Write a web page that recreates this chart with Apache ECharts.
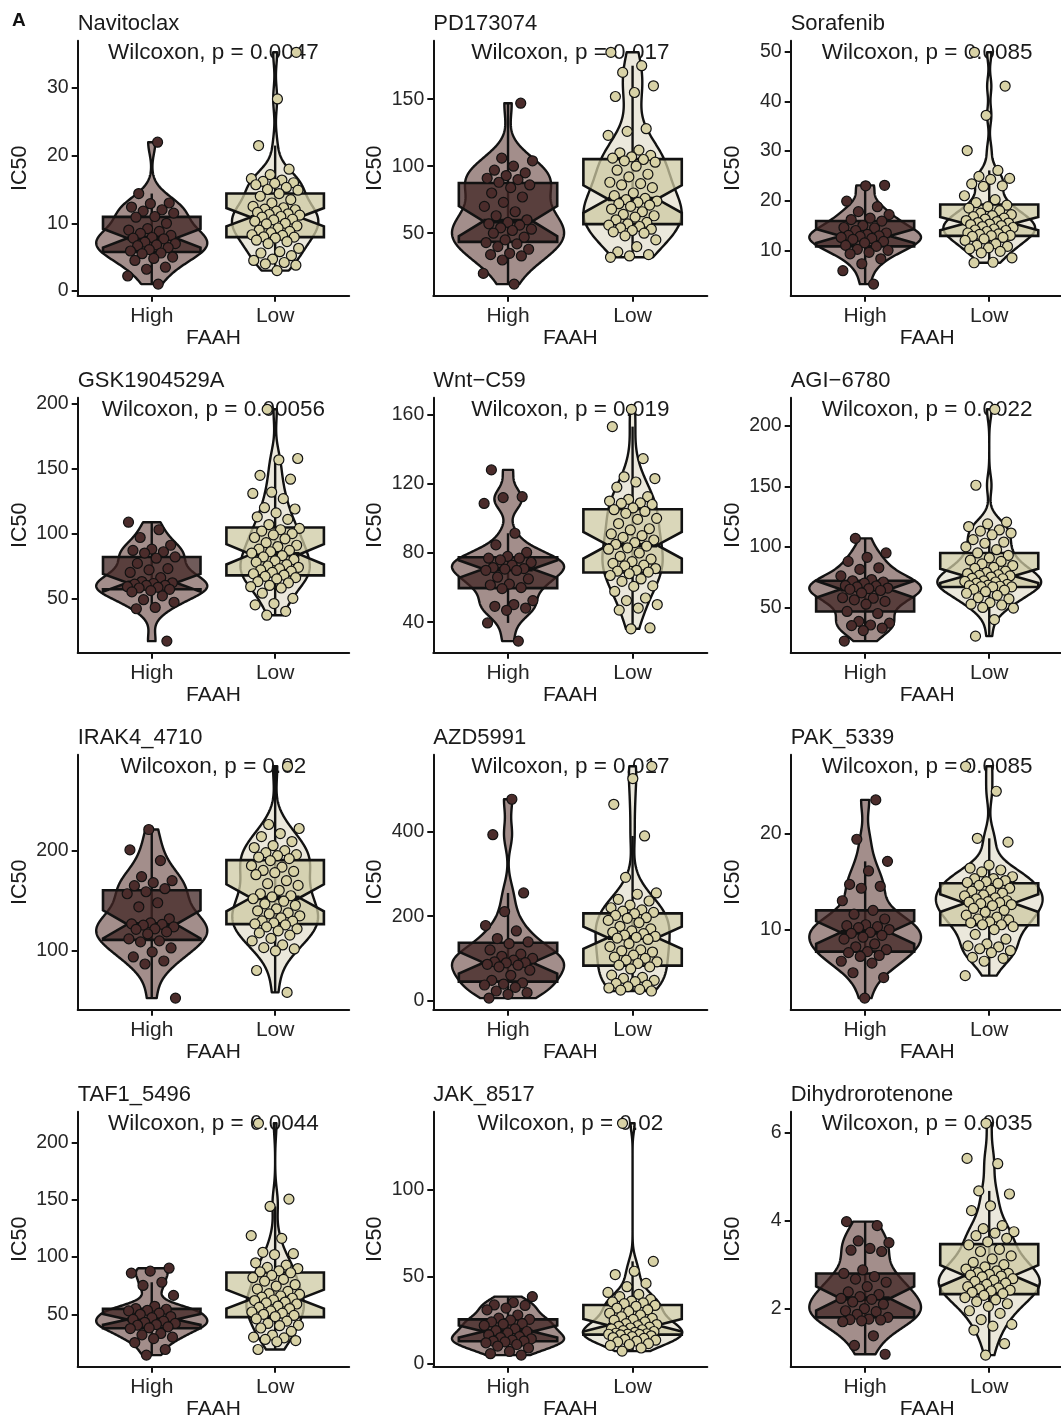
<!DOCTYPE html>
<html>
<head>
<meta charset="utf-8">
<script src="https://cdn.jsdelivr.net/npm/echarts@6/dist/echarts.min.js"></script>
<style>
  html, body { margin: 0; padding: 0; background: #ffffff; }
  #chart { width: 1061px; height: 1420px; }
</style>
</head>
<body>
<div id="chart"></div>
<script>
// ---- Data: IC50 per cell line, split by FAAH expression ----
const drugs = ['Navitoclax', 'PD173074', 'Sorafenib', 'GSK1904529A', 'Wnt\u2212C59', 'AGI\u22126780',
  'IRAK4_4710', 'AZD5991', 'PAK_5339', 'TAF1_5496', 'JAK_8517', 'Dihydrorotenone'];
const groups = ['High', 'Low'];
const pValues = ['0.0047', '0.017', '0.0085', '0.00056', '0.019', '0.0022', '0.02', '0.017', '0.0085', '0.0044', '0.02', '0.0035'];
const yTicks = [[0, 10, 20, 30], [50, 100, 150], [10, 20, 30, 40, 50], [50, 100, 150, 200], [40, 80, 120, 160],
  [50, 100, 150, 200], [100, 200], [0, 200, 400], [10, 20], [50, 100, 150, 200], [0, 50, 100], [2, 4, 6]];

const navitoclaxHigh = [22.0, 14.4, 13.0, 12.9, 12.4, 12.0, 11.8, 11.5, 11.0, 10.9, 10.0, 9.2, 9.0, 8.8, 8.5, 8.2, 7.9, 7.8, 7.7, 7.2, 7.0, 6.8, 6.7, 6.4, 6.1, 5.9, 5.6, 5.5, 5.0, 4.8, 4.5, 3.5, 3.2, 2.2, 1.0];
const navitoclaxLow = [35.3, 28.4, 21.5, 18.0, 17.2, 16.6, 16.4, 16.2, 16.0, 15.9, 15.7, 15.3, 15.0, 14.9, 14.4, 14.0, 13.5, 13.0, 12.5, 12.3, 12.1, 12.0, 11.8, 11.6, 11.4, 11.3, 11.2, 11.0, 10.9, 10.6, 10.5, 10.3, 10.0, 9.9, 9.6, 9.3, 9.0, 8.8, 8.6, 8.3, 8.2, 8.0, 7.95, 7.8, 7.5, 7.3, 7.0, 6.3, 5.8, 5.6, 5.2, 4.7, 4.5, 4.2, 4.0, 3.8, 3.0];

const pd173074High = [147, 106, 104, 100, 97, 95, 93, 91, 90, 88, 86, 84, 80, 77, 73, 70, 66, 63, 60, 58, 57, 56, 54, 53, 52, 50, 47, 45, 43, 42, 40, 38, 35, 34, 33, 30, 20, 12];
const pd173074Low = [185, 175, 170, 160, 155, 152, 128, 126, 123, 112, 110, 108, 107, 106, 105, 104, 103, 100, 97, 94, 92, 88, 87, 86, 84, 80, 78, 76, 75, 74, 73, 72, 71, 70, 68, 66, 64, 63, 62, 60, 58, 57, 56, 55, 54, 53, 52, 51, 50, 48, 45, 40, 36, 34, 33, 32];

const sorafenibHigh = [23.1, 23.0, 19.9, 18.8, 17.8, 17.2, 16.5, 16.2, 15.9, 15.0, 14.6, 14.5, 14.0, 13.5, 13.2, 13.0, 12.9, 12.8, 12.6, 12.4, 12.2, 11.8, 11.5, 11.0, 10.8, 10.2, 10.0, 9.6, 9.3, 8.3, 7.3, 5.9, 3.2];
const sorafenibLow = [49.9, 43.1, 37.2, 30.1, 26.1, 24.9, 24.5, 24.3, 23.4, 23.0, 22.9, 21.0, 20.2, 19.6, 19.1, 18.8, 18.5, 18.0, 17.5, 17.2, 17.0, 16.8, 16.5, 16.3, 16.0, 15.8, 15.6, 15.5, 15.3, 15.2, 15.0, 14.8, 14.6, 14.3, 14.1, 14.0, 13.8, 13.5, 13.3, 13.2, 13.0, 12.95, 12.8, 12.6, 12.3, 12.0, 11.3, 11.0, 10.8, 10.5, 10.3, 9.8, 9.5, 8.5, 7.6, 7.5];

const gsk1904529aHigh = [108.8, 103, 97, 91, 88, 87, 86, 85, 82, 81, 77, 73, 72, 70, 66, 63, 62, 61.5, 61, 60, 60, 59, 58.5, 58, 57, 56, 55, 52, 49, 47, 43, 42, 17];
const gsk1904529aLow = [196, 158, 157, 145, 142, 132, 131, 127, 120, 119, 116, 113, 111, 107, 104, 103, 102, 100, 99, 97, 96, 93, 91, 90, 88, 87, 86, 85, 83, 82, 80, 79, 78, 76, 75, 74, 73, 72, 71, 70, 69, 68, 67, 66, 65, 63, 62, 60, 59, 58, 54, 50, 46, 45, 40, 37];

const wntC59High = [128, 112.5, 112, 108.6, 91.4, 84.7, 80.3, 78, 77, 77, 76, 74.5, 73, 71.6, 71, 70.7, 70, 69.9, 66, 65, 62, 61.5, 60, 59.4, 52.5, 50.2, 49.2, 48.2, 46.9, 39.6, 29.1];
const wntC59Low = [163, 153, 134.5, 124, 123, 121, 118, 112.5, 111, 110, 109, 108.6, 108, 106, 105, 104, 102.9, 100, 99.4, 97, 94, 93.3, 91, 90, 89, 87.5, 86, 85, 84, 83, 82.2, 80, 78, 76.4, 75, 74, 73, 72.6, 71, 70, 69.5, 69, 68, 67, 65, 63.6, 61, 60.7, 57.8, 54, 52.5, 50.2, 48.2, 47, 36.7, 36.2];

const agi6780High = [107, 95, 91.4, 88, 82.7, 81.4, 76, 73, 72, 71, 70, 68, 67.7, 66.9, 66, 65.5, 65, 64, 62, 58, 57.6, 56.3, 55, 52.7, 46.7, 45, 38.5, 37, 35.5, 35, 33, 30.9, 22.2];
const agi6780Low = [213.6, 150.9, 120.4, 119, 116.8, 114, 113, 111.4, 110, 106, 104, 103, 100, 97.7, 95, 93, 90.9, 89, 88, 86, 84.6, 83, 82.2, 80, 79, 78, 77, 76.5, 76, 75.1, 74, 73.7, 72, 71.5, 71, 70, 69, 68.5, 68, 67.5, 67.2, 67, 66.9, 65, 64.3, 63, 61.7, 60, 58, 57, 54, 52.7, 52, 50, 49.5, 40, 26.3];

const irak4High = [221, 200.7, 190, 174, 170, 168, 165, 162, 159, 157, 148, 144, 132, 128, 127, 126.5, 125.7, 124, 122, 121.5, 119, 117, 112, 110, 109, 103, 99, 94, 90, 87, 53];
const irak4Low = [284, 226, 222, 217, 214, 209, 205, 203, 200, 198, 196, 195, 193.4, 192, 190, 185, 183.5, 180.2, 179.2, 178, 176, 170, 167, 165.3, 160.4, 157, 155, 153.8, 152, 149.5, 147, 145.5, 142, 140, 138, 137, 135, 133, 130, 129.7, 128, 127, 126, 124, 122, 120, 118, 115.8, 112.5, 110, 106, 103.3, 102, 100, 80.5, 58.7];

const azd5991High = [477, 393, 255, 211, 178, 165, 147, 139, 135, 120, 110, 105, 100, 96, 92, 90, 89.6, 86, 84, 80, 72, 60, 48, 42, 39.3, 37, 31.4, 22.8, 18.9, 15, 6];
const azd5991Low = [555, 526, 465, 390, 292, 255, 252, 240, 236, 226, 220, 215, 212, 209, 206, 202, 196.5, 195, 190, 185, 176, 170, 165, 162, 158.7, 155, 152, 150, 148, 145, 135, 128, 120, 118, 115, 107.7, 103, 100, 96, 92, 88, 84, 80, 75, 60.5, 55, 52.7, 48, 45, 40.9, 36.9, 33, 30, 26.7, 25, 22.8];

const pak5339High = [23.5, 19.4, 17.1, 16.1, 14.7, 14.5, 14.3, 13, 12, 11.6, 11.1, 10.5, 10.4, 10.3, 10.2, 10.0, 9.7, 9.6, 9.4, 9.2, 9.0, 8.5, 8.2, 7.9, 7.7, 7.6, 7.3, 7.2, 6.7, 6.5, 5.5, 5.0, 2.86];
const pak5339Low = [27, 24.4, 19.5, 19.1, 16.7, 16.4, 16.2, 16, 15.5, 15.3, 15.3, 15.1, 15, 14.9, 14.8, 14.6, 14.3, 14.1, 14, 13.8, 13.6, 13.5, 13.3, 13.2, 13, 12.9, 12.85, 12.8, 12.7, 12.6, 12.5, 12.2, 12, 11.8, 11.5, 11.3, 11.1, 11, 10.8, 10.7, 10.5, 10.5, 10.3, 10, 9.5, 9.0, 8.5, 8.3, 8.2, 8, 7.8, 7.6, 7.1, 7.0, 6.7, 5.2];

const taf1High = [90.3, 87.7, 86, 78, 75.2, 66.5, 57, 55, 54.4, 53.5, 53, 51, 50, 48, 47, 45.5, 44, 43, 42, 41, 40.4, 39, 38.1, 37.5, 33.2, 32, 30, 28.8, 25.3, 19.2, 14.3];
const taf1Low = [217, 150.7, 144.3, 118.8, 116.4, 104.2, 103, 102.2, 95, 93, 91, 90, 88, 87, 86.3, 84, 82, 80.5, 79, 76, 74.7, 72, 70, 68, 67.4, 66, 65, 64, 62.5, 62, 60.7, 60, 59, 57.2, 56, 55, 53, 52, 51, 50, 49, 48, 46, 44, 42, 40.4, 40, 38, 35, 31.7, 30, 29.4, 28, 27, 26, 19.2];

const jak8517High = [38.6, 35.2, 33.8, 33.5, 32, 31, 28, 26.2, 25.5, 25, 24, 23, 22.8, 22, 20, 19, 18.5, 17.7, 16.5, 15.5, 15, 14.3, 13.5, 13, 12.9, 12.5, 12, 11, 10.1, 9, 7, 5.7, 4.9];
const jak8517Low = [138.4, 58.9, 53.2, 51.3, 46.2, 44.3, 41, 39.9, 38.6, 37, 36, 35.5, 35, 34.5, 33.5, 33, 32, 31, 30, 29, 28, 27, 26, 25.5, 25, 24, 23, 22.5, 21.8, 21.5, 21, 20.5, 20, 19.5, 19, 18.5, 18, 17.5, 17.2, 17, 16.9, 16.8, 16.5, 16, 15.5, 15, 14.5, 14, 13.5, 13, 12.5, 11.5, 11, 10.5, 9, 7.2];

const dihydrorotenoneHigh = [3.98, 3.89, 3.54, 3.5, 3.37, 3.33, 3.3, 2.88, 2.8, 2.73, 2.67, 2.6, 2.5, 2.38, 2.32, 2.27, 2.23, 2.21, 2.15, 2.1, 2.0, 1.95, 1.93, 1.87, 1.8, 1.76, 1.75, 1.74, 1.72, 1.7, 1.38, 1.16, 0.96];
const dihydrorotenoneLow = [6.22, 5.42, 5.3, 4.68, 4.61, 4.34, 4.23, 3.89, 3.82, 3.75, 3.72, 3.66, 3.6, 3.52, 3.45, 3.35, 3.3, 3.2, 3.13, 3.05, 3.0, 2.95, 2.9, 2.86, 2.82, 2.8, 2.78, 2.76, 2.74, 2.72, 2.68, 2.65, 2.62, 2.58, 2.55, 2.5, 2.47, 2.45, 2.42, 2.4, 2.37, 2.34, 2.3, 2.25, 2.2, 2.16, 2.11, 2.05, 1.95, 1.89, 1.75, 1.64, 1.6, 1.51, 1.2, 0.94];

const panelData = [
  [navitoclaxHigh, navitoclaxLow], [pd173074High, pd173074Low], [sorafenibHigh, sorafenibLow],
  [gsk1904529aHigh, gsk1904529aLow], [wntC59High, wntC59Low], [agi6780High, agi6780Low],
  [irak4High, irak4Low], [azd5991High, azd5991Low], [pak5339High, pak5339Low],
  [taf1High, taf1Low], [jak8517High, jak8517Low], [dihydrorotenoneHigh, dihydrorotenoneLow]
];

// ---- Styling / layout ----
const FONT = "'Liberation Sans', Arial, Helvetica, sans-serif";
const INK = '#121212';
const colLeft = [77.7, 433.3, 790.7];
const colWidth = [271.5, 274, 273];
const rowTop0 = 40.7, rowStep = 357, plotH = 255;
const violinFill = ['#a38e8b', '#ebe8dc'];
const boxFill = ['rgba(64,36,35,0.75)', 'rgba(205,201,163,0.75)'];
const pointFill = ['#4b2c2b', '#d8d2a6'];
const VIOLIN_W = 0.9, BOX_W = 0.79, JITTER_W = 0.2;

// ---- Statistics (ggplot-style) ----
function quantile(sorted, p) {
  const h = (sorted.length - 1) * p, lo = Math.floor(h);
  const hi = Math.min(lo + 1, sorted.length - 1);
  return sorted[lo] + (h - lo) * (sorted[hi] - sorted[lo]);
}
function boxStats(vals) {
  const s = vals.slice().sort((a, b) => a - b);
  const q1 = quantile(s, 0.25), med = quantile(s, 0.5), q3 = quantile(s, 0.75);
  const iqr = q3 - q1;
  const upLim = q3 + 1.5 * iqr, loLim = q1 - 1.5 * iqr;
  const wHi = Math.max(...s.filter(v => v <= upLim));
  const wLo = Math.min(...s.filter(v => v >= loLim));
  const notch = 1.58 * iqr / Math.sqrt(s.length);
  return { q1, med, q3, wHi, wLo, nHi: med + notch, nLo: med - notch };
}
function bandwidth(vals) {
  const n = vals.length;
  const s = vals.slice().sort((a, b) => a - b);
  const mean = s.reduce((a, b) => a + b, 0) / n;
  const sd = Math.sqrt(s.reduce((a, b) => a + (b - mean) * (b - mean), 0) / (n - 1));
  const iqr = quantile(s, 0.75) - quantile(s, 0.25);
  let lo = Math.min(sd, iqr / 1.34);
  if (!(lo > 0)) lo = sd || 1;
  return 0.9 * lo * Math.pow(n, -0.2);
}
function densityProfile(vals) {
  const bw = bandwidth(vals);
  const lo = Math.min(...vals), hi = Math.max(...vals);
  const N = 200, ys = [], ds = [];
  const k = 1 / (vals.length * bw * Math.sqrt(2 * Math.PI));
  for (let i = 0; i < N; i++) {
    const y = lo + (hi - lo) * i / (N - 1);
    let sum = 0;
    for (const v of vals) { const z = (y - v) / bw; sum += Math.exp(-0.5 * z * z); }
    ys.push(y); ds.push(sum * k);
  }
  return { ys, ds };
}
// evenly spread horizontal offsets for the jittered points
function jitter(i, p, g) {
  const f = ((i + 1) * 0.6180339887 + p * 0.137 + g * 0.31) % 1;
  return (f - 0.5) * 2 * JITTER_W;
}

// ---- Build chart option ----
const grids = [], xAxes = [], yAxes = [], series = [];
const titles = [{
  text: 'A', left: 12, top: 11, padding: 0,
  textStyle: { fontFamily: FONT, fontSize: 19, fontWeight: 'bold', color: '#111' }
}];

panelData.forEach((pair, p) => {
  const row = Math.floor(p / 3), col = p % 3;
  const top = rowTop0 + rowStep * row;
  grids.push({ left: colLeft[col], top: top, width: colWidth[col], height: plotH, outerBoundsMode: 'none', containLabel: false });

  const all = pair[0].concat(pair[1]);
  const dMin = Math.min(...all), dMax = Math.max(...all);
  const span = dMax - dMin;

  xAxes.push({
    gridIndex: p, type: 'value', min: 0.4, max: 2.6,
    axisLine: { show: true, onZero: false, lineStyle: { color: INK, width: 2 } },
    axisTick: { show: true, customValues: [1, 2], length: 6, lineStyle: { color: INK, width: 2 } },
    axisLabel: { customValues: [1, 2], formatter: v => groups[Math.round(v) - 1], margin: 10.5,
      fontFamily: FONT, fontSize: 21, color: '#262626' },
    splitLine: { show: false },
    name: 'FAAH', nameLocation: 'middle', nameGap: 32,
    nameTextStyle: { fontFamily: FONT, fontSize: 21, color: '#1a1a1a' }
  });
  yAxes.push({
    gridIndex: p, type: 'value', min: dMin - 0.05 * span, max: dMax + 0.05 * span,
    axisLine: { show: true, onZero: false, lineStyle: { color: INK, width: 2 } },
    axisTick: { show: true, customValues: yTicks[p], length: 6, lineStyle: { color: INK, width: 2 } },
    axisLabel: { customValues: yTicks[p], margin: 9, fontFamily: FONT, fontSize: 19.5, color: '#262626' },
    splitLine: { show: false },
    name: 'IC50', nameLocation: 'middle', nameGap: 47, nameRotate: 90,
    nameTextStyle: { fontFamily: FONT, fontSize: 21.5, color: '#1a1a1a' }
  });

  titles.push({
    text: drugs[p], left: colLeft[col], top: top - 28, padding: 0,
    textStyle: { fontFamily: FONT, fontSize: 22, fontWeight: 'normal', color: '#1a1a1a' }
  });

  // Wilcoxon annotation, centred over the panel at the top of the data range
  series.push({
    type: 'custom', xAxisIndex: p, yAxisIndex: p, z: 1, silent: true,
    data: [[1.5, dMax]],
    renderItem: (params, api) => {
      const c = api.coord([api.value(0), api.value(1)]);
      return {
        type: 'text', x: c[0], y: c[1] + 1,
        style: {
          text: 'Wilcoxon, p = ' + pValues[p], fill: '#1a1a1a',
          font: "22.5px 'Liberation Sans', Arial, sans-serif",
          align: 'center', verticalAlign: 'middle', textAlign: 'center', textVerticalAlign: 'middle'
        }
      };
    }
  });

  // violins (area-scaled within the panel)
  const profs = pair.map(densityProfile);
  const maxD = Math.max(...profs.map(pr => Math.max(...pr.ds)));
  profs.forEach(pr => { pr.hw = pr.ds.map(d => d / maxD * VIOLIN_W / 2); });
  series.push({
    type: 'custom', xAxisIndex: p, yAxisIndex: p, z: 2, silent: true,
    data: [[1, dMin], [2, dMin]],
    renderItem: (params, api) => {
      const g = params.dataIndex, pr = profs[g], xc = g + 1;
      const pts = [];
      for (let i = 0; i < pr.ys.length; i++) pts.push(api.coord([xc + pr.hw[i], pr.ys[i]]));
      for (let i = pr.ys.length - 1; i >= 0; i--) pts.push(api.coord([xc - pr.hw[i], pr.ys[i]]));
      return { type: 'polygon', shape: { points: pts },
        style: { fill: violinFill[g], stroke: INK, lineWidth: 2.4, lineJoin: 'round' } };
    }
  });

  // notched box plots with whiskers
  const stats = pair.map(boxStats);
  series.push({
    type: 'custom', xAxisIndex: p, yAxisIndex: p, z: 3, silent: true,
    data: [[1, dMin], [2, dMin]],
    renderItem: (params, api) => {
      const g = params.dataIndex, s = stats[g], xc = g + 1;
      const hw = BOX_W / 2, ind = hw * 0.5;
      const xmin = xc - hw, xmax = xc + hw;
      const P = (x, y) => api.coord([x, y]);
      const poly = [P(xmin, s.q3), P(xmin, s.nHi), P(xmin + ind, s.med), P(xmin, s.nLo), P(xmin, s.q1),
        P(xmax, s.q1), P(xmax, s.nLo), P(xmax - ind, s.med), P(xmax, s.nHi), P(xmax, s.q3)];
      const wTop = P(xc, s.wHi), wBot = P(xc, s.wLo);
      const mL = P(xmin + ind, s.med), mR = P(xmax - ind, s.med);
      return {
        type: 'group', children: [
          { type: 'line', shape: { x1: wTop[0], y1: wTop[1], x2: wBot[0], y2: wBot[1] },
            style: { stroke: INK, lineWidth: 2.4 } },
          { type: 'polygon', shape: { points: poly },
            style: { fill: boxFill[g], stroke: INK, lineWidth: 2.6, lineJoin: 'miter' } },
          { type: 'line', shape: { x1: mL[0], y1: mL[1], x2: mR[0], y2: mR[1] },
            style: { stroke: INK, lineWidth: 4.6 } }
        ]
      };
    }
  });

  // jittered points
  pair.forEach((vals, g) => {
    series.push({
      type: 'scatter', xAxisIndex: p, yAxisIndex: p, z: 4, silent: true,
      symbol: 'circle', symbolSize: 10,
      itemStyle: { color: pointFill[g], borderColor: INK, borderWidth: 1.2, opacity: 1 },
      data: vals.map((v, i) => [g + 1 + jitter(i, p, g), v])
    });
  });
});

const chart = echarts.init(document.getElementById('chart'), null, { renderer: 'canvas' });
chart.setOption({
  animation: false,
  backgroundColor: '#ffffff',
  title: titles,
  grid: grids,
  xAxis: xAxes,
  yAxis: yAxes,
  tooltip: { show: false },
  series: series
});
</script>
</body>
</html>
